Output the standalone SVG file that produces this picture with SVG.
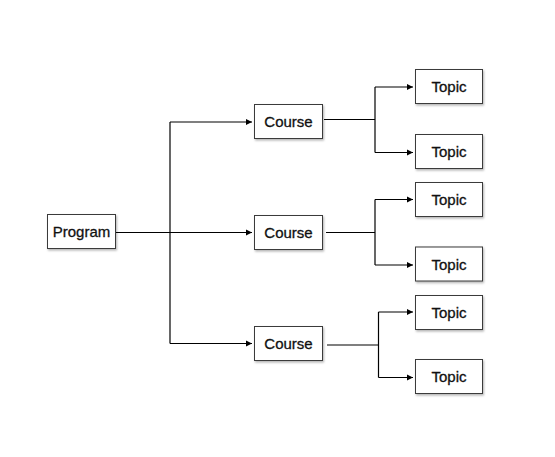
<svg xmlns="http://www.w3.org/2000/svg" width="555" height="457" viewBox="0 0 555 457">
<style>
.box{fill:#fff;stroke:#3a3a3a;stroke-width:1;filter:url(#sh)}
.lbl{font-family:"Liberation Sans",Arial,sans-serif;font-size:15px;fill:#111;stroke:#111;stroke-width:0.3;text-anchor:middle}
.c{fill:none;stroke:#000;stroke-width:1.2}
.a{marker-end:url(#ah)}
</style>
<defs>
<filter id="sh" x="-20%" y="-20%" width="150%" height="150%">
<feDropShadow dx="1" dy="1.5" stdDeviation="1" flood-color="#000" flood-opacity="0.3"/>
</filter>
<marker id="ah" viewBox="0 0 8 8" refX="8" refY="4" markerWidth="6.5" markerHeight="6.5" markerUnits="userSpaceOnUse" orient="auto">
<path d="M0,0 L8,4 L0,8 Z" fill="#000"/>
</marker>
</defs>
<rect width="555" height="457" fill="#fff"/>
<g id="connectors">
<path class="c" d="M116,232.5 H170"/>
<path class="c" d="M170,122 V343.5"/>
<path class="c a" d="M170,122 H252"/>
<path class="c a" d="M170,232.5 H252"/>
<path class="c a" d="M170,343.5 H252"/>
<path class="c" d="M324,119.5 H375"/>
<path class="c" d="M375,87 V152.5"/>
<path class="c a" d="M375,87 H413"/>
<path class="c a" d="M375,152.5 H413"/>
<path class="c" d="M326,232.5 H375"/>
<path class="c" d="M375,199.5 V265"/>
<path class="c a" d="M375,199.5 H413"/>
<path class="c a" d="M375,265 H413"/>
<path class="c" d="M327,345 H378.5"/>
<path class="c" d="M378.5,312 V377.5"/>
<path class="c a" d="M378.5,312 H413"/>
<path class="c a" d="M378.5,377.5 H413"/>
</g>
<g id="program"><rect class="box" x="47.5" y="214.5" width="68" height="34"/><text class="lbl" x="81.5" y="237">Program</text></g>
<g id="course1"><rect class="box" x="254.5" y="104.5" width="68" height="34"/><text class="lbl" x="288.5" y="127">Course</text></g>
<g id="course2"><rect class="box" x="254.5" y="215.5" width="68" height="34"/><text class="lbl" x="288.5" y="238">Course</text></g>
<g id="course3"><rect class="box" x="254.5" y="326.5" width="68" height="34"/><text class="lbl" x="288.5" y="349">Course</text></g>
<g id="topic1"><rect class="box" x="415.5" y="69.5" width="67" height="34"/><text class="lbl" x="449" y="92">Topic</text></g>
<g id="topic2"><rect class="box" x="415.5" y="134.5" width="67" height="34"/><text class="lbl" x="449" y="157">Topic</text></g>
<g id="topic3"><rect class="box" x="415.5" y="182.5" width="67" height="34"/><text class="lbl" x="449" y="205">Topic</text></g>
<g id="topic4"><rect class="box" x="415.5" y="247" width="67" height="34"/><text class="lbl" x="449" y="269.5">Topic</text></g>
<g id="topic5"><rect class="box" x="415.5" y="295.5" width="67" height="34"/><text class="lbl" x="449" y="318">Topic</text></g>
<g id="topic6"><rect class="box" x="415.5" y="359.5" width="67" height="34"/><text class="lbl" x="449" y="382">Topic</text></g>
</svg>
